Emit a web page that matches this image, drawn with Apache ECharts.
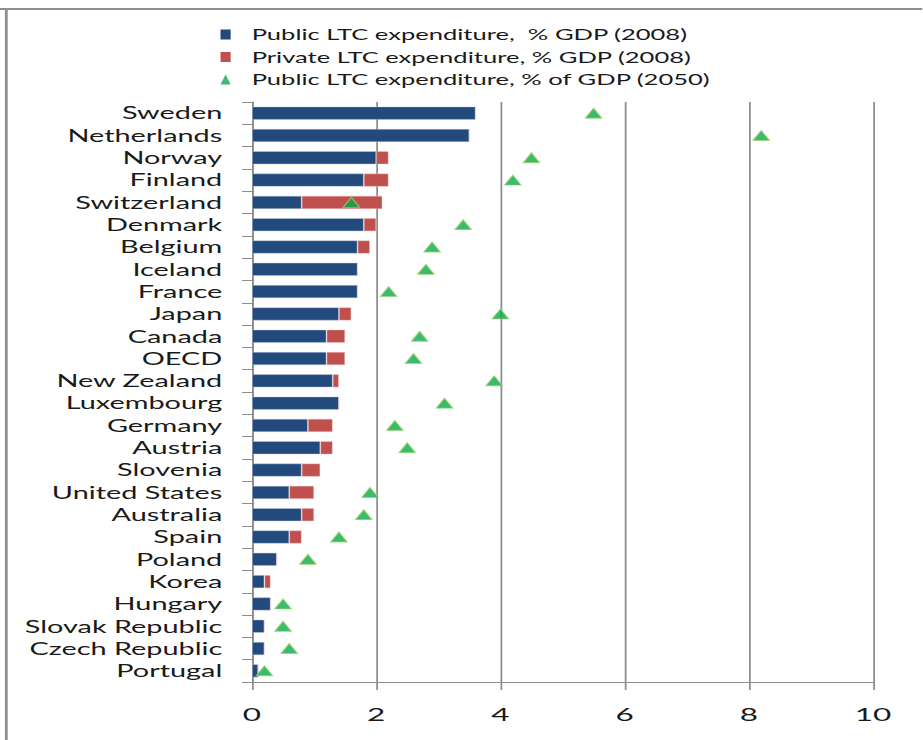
<!DOCTYPE html>
<html>
<head>
<meta charset="utf-8">
<script src="https://cdn.jsdelivr.net/npm/echarts@6/dist/echarts.min.js"></script>
<style>
html,body{margin:0;padding:0;background:#fff;}
#wrap{width:923px;height:740px;overflow:hidden;position:relative;background:#fff;}
#c{height:740px;transform-origin:0 0;}
</style>
</head>
<body>
<div id="wrap"><div id="c"></div></div>
<script>
const countries = ["Sweden","Netherlands","Norway","Finland","Switzerland","Denmark","Belgium","Iceland","France","Japan","Canada","OECD","New Zealand","Luxembourg","Germany","Austria","Slovenia","United States","Australia","Spain","Poland","Korea","Hungary","Slovak Republic","Czech Republic","Portugal"];
const public2008 = [3.6,3.5,2.0,1.8,0.8,1.8,1.7,1.7,1.7,1.4,1.2,1.2,1.3,1.4,0.9,1.1,0.8,0.6,0.8,0.6,0.4,0.2,0.3,0.2,0.2,0.1];
const private2008 = [0,0,0.2,0.4,1.3,0.2,0.2,0,0,0.2,0.3,0.3,0.1,0,0.4,0.2,0.3,0.4,0.2,0.2,0,0.1,0,0,0,0];
const public2050 = [5.5,8.2,4.5,4.2,1.6,3.4,2.9,2.8,2.2,4.0,2.7,2.6,3.9,3.1,2.3,2.5,null,1.9,1.8,1.4,0.9,null,0.5,0.5,0.6,0.2];
const xTicks = [0,2,4,6,8,10];
const seriesNames = ["Public LTC expenditure,  % GDP (2008)","Private LTC expenditure, % GDP (2008)","Public LTC expenditure, % of GDP (2050)"];

const S = 1.75;           // horizontal stretch of the reference picture
const W = 923 / S;
const el = document.getElementById('c');
el.style.width = W + 'px';
el.style.transform = 'scaleX(' + S + ')';

const FONT = 'Lato';
const chart = echarts.init(el, null, {renderer: 'svg', width: W, height: 740});
chart.setOption({
  animation: false,
  backgroundColor: '#fff',
  textStyle: {fontFamily: FONT},
  graphic: [
    {type: 'line', shape: {x1: 0, y1: 9, x2: W, y2: 9}, style: {stroke: '#8f8f8f', lineWidth: 2}},
    {type: 'line', shape: {x1: 3.6, y1: 9, x2: 3.6, y2: 740}, style: {stroke: '#8f8f8f', lineWidth: 1.6}}
  ],
  legend: {
    orient: 'vertical',
    left: 126,
    top: 26,
    padding: 0,
    itemWidth: 5.8,
    itemHeight: 10,
    itemGap: 5.5,
    symbolKeepAspect: false,
    itemStyle: {borderWidth: 0},
    textStyle: {fontFamily: FONT, fontSize: 14.6, color: '#1a1a1a', padding: [0,0,0,7], lineHeight: 17},
    data: [
      {name: seriesNames[0], icon: 'rect'},
      {name: seriesNames[1], icon: 'rect'},
      {name: seriesNames[2], icon: 'triangle'}
    ]
  },
  grid: {left: 144, right: W - 873 / S, top: 102, bottom: 58, containLabel: false},
  xAxis: {
    type: 'value', min: 0, max: 10, interval: 2,
    axisLine: {show: true, lineStyle: {color: '#8c8c8c', width: 1}},
    axisTick: {show: true, length: 8, lineStyle: {color: '#8c8c8c', width: 1}},
    splitLine: {show: true, lineStyle: {color: '#8c8c8c', width: 1}},
    axisLabel: {fontFamily: FONT, fontSize: 18, color: '#1a1a1a', margin: 23,
      formatter: v => xTicks.includes(v) ? String(v) : ''}
  },
  yAxis: {
    type: 'category', data: countries, inverse: true,
    axisLine: {show: true, lineStyle: {color: '#8c8c8c', width: 1}},
    axisTick: {show: true, length: 5.7, lineStyle: {color: '#8c8c8c', width: 1}},
    axisLabel: {fontFamily: FONT, fontSize: 16.5, color: '#1a1a1a', margin: 17}
  },
  series: [
    {name: seriesNames[0], type: 'bar', stack: 'ltc', data: public2008, barWidth: 13,
      itemStyle: {color: '#234a7d', borderColor: 'rgba(200,210,230,0.6)', borderWidth: 0.5}},
    {name: seriesNames[1], type: 'bar', stack: 'ltc', data: private2008, barWidth: 13,
      itemStyle: {color: '#c0504d', borderColor: 'rgba(240,200,200,0.6)', borderWidth: 0.5}},
    {name: seriesNames[2], type: 'scatter', data: public2050.map(v => v === null ? '-' : v),
      symbol: 'triangle', symbolSize: [9.5, 10],
      itemStyle: {color: '#0ba94a', borderColor: '#9fd46a', borderWidth: 0.8}, z: 5}
  ]
});
</script>
</body>
</html>
